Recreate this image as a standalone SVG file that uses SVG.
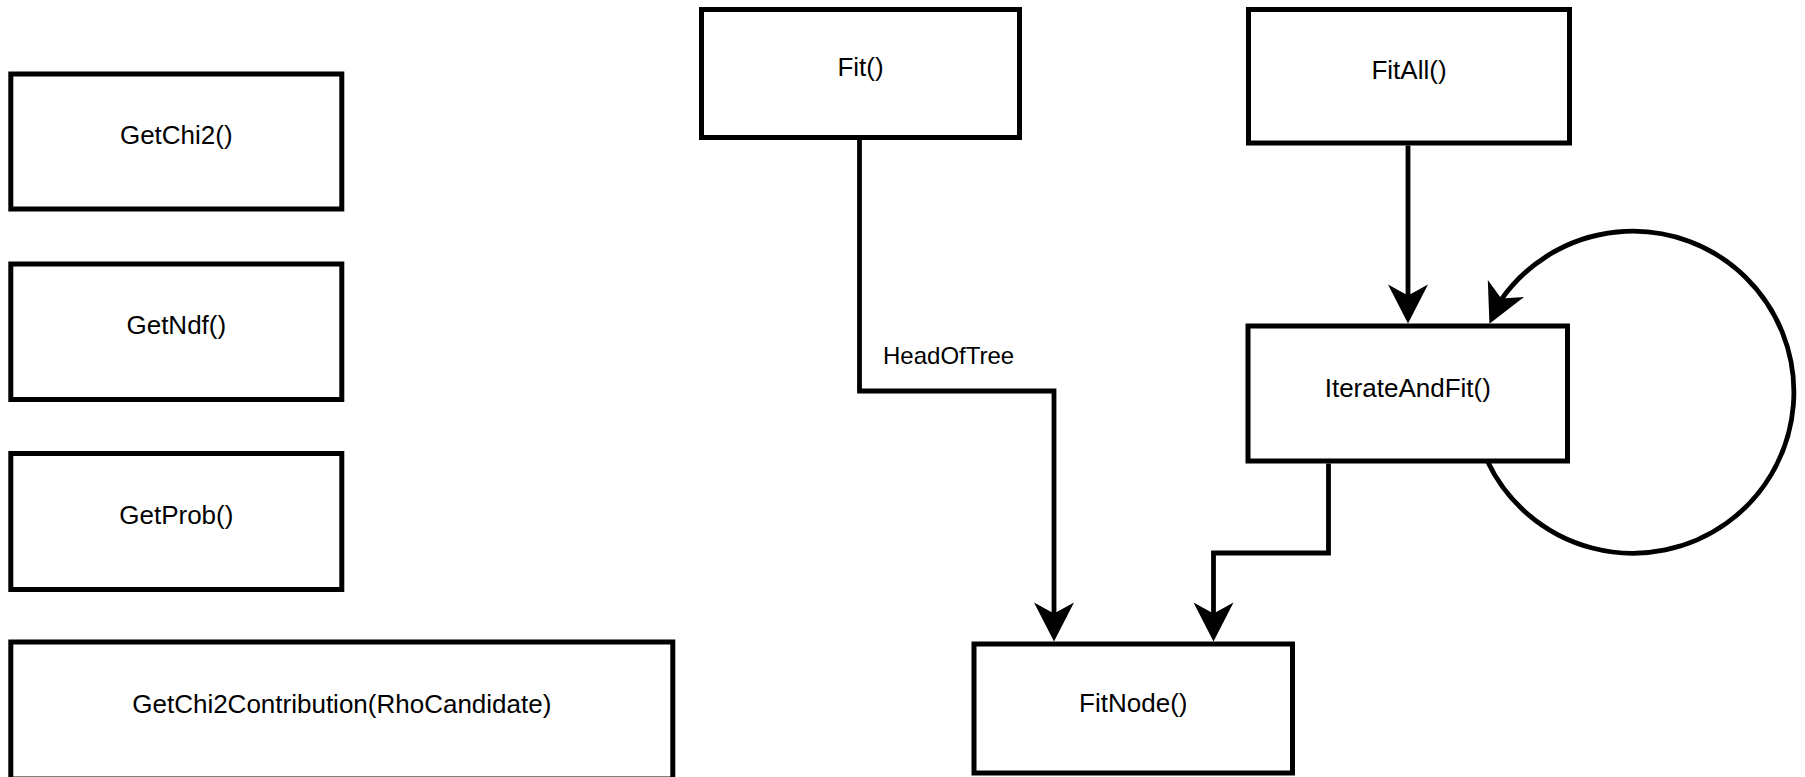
<svg xmlns="http://www.w3.org/2000/svg" width="1805" height="777" viewBox="0 0 1805 777">
  <style>
    .box { fill: #ffffff; stroke: #000000; stroke-width: 5; }
    .lbl { font-family: "Liberation Sans", Arial, Helvetica, sans-serif; font-size: 26px; fill: #000000; text-anchor: middle; }
    .edge { fill: none; stroke: #000000; stroke-width: 4.8; stroke-linejoin: miter; }
    .elbl { font-family: "Liberation Sans", Arial, Helvetica, sans-serif; font-size: 24px; fill: #000000; }
  </style>
  <defs>
    <!-- classic filled arrowhead; reference point sits just ahead of the notch so the line end is hidden -->
    <marker id="arrow" markerUnits="userSpaceOnUse" orient="auto" markerWidth="60" markerHeight="60" viewBox="-30 -30 60 60" refX="0" refY="0" overflow="visible">
      <path d="M24,0 L-15,-20 L-4,0 L-15,20 Z" fill="#000000" stroke="none"/>
    </marker>
  </defs>

  <rect x="0" y="0" width="1805" height="777" fill="#ffffff"/>

  <!-- nodes -->
  <g id="getchi2">
    <rect class="box" x="10.8" y="74" width="331" height="135"/>
    <text class="lbl" x="176.3" y="144">GetChi2()</text>
  </g>
  <g id="getndf">
    <rect class="box" x="10.8" y="264" width="331" height="135.5"/>
    <text class="lbl" x="176.3" y="334">GetNdf()</text>
  </g>
  <g id="getprob">
    <rect class="box" x="10.8" y="453.5" width="331" height="136"/>
    <text class="lbl" x="176.3" y="524">GetProb()</text>
  </g>
  <g id="getchi2contribution">
    <rect class="box" x="10.8" y="642" width="662" height="137"/>
    <text class="lbl" x="341.8" y="713">GetChi2Contribution(RhoCandidate)</text>
  </g>
  <g id="fit">
    <rect class="box" x="701.5" y="9.5" width="318" height="128"/>
    <text class="lbl" x="860.5" y="76">Fit()</text>
  </g>
  <g id="fitall">
    <rect class="box" x="1248.5" y="9.5" width="321" height="133.5"/>
    <text class="lbl" x="1409" y="78.5">FitAll()</text>
  </g>
  <g id="iterateandfit">
    <rect class="box" x="1248" y="326" width="319.5" height="135"/>
    <text class="lbl" x="1407.8" y="396.5">IterateAndFit()</text>
  </g>
  <g id="fitnode">
    <rect class="box" x="974" y="644" width="318.5" height="129"/>
    <text class="lbl" x="1133.3" y="712">FitNode()</text>
  </g>

  <!-- connectors -->
  <g id="connectors">
    <path class="edge" d="M859.5,140 V391 H1054 V617.5" marker-end="url(#arrow)"/>
    <text class="elbl" x="883" y="364">HeadOfTree</text>
    <path class="edge" d="M1408,145.5 V299.5" marker-end="url(#arrow)"/>
    <path class="edge" d="M1328.5,463.5 V553 H1213.5 V617.5" marker-end="url(#arrow)"/>
    <!-- self loop on IterateAndFit(): circle r=161 round (1633,392.5), bottom edge out, top edge back in -->
    <path class="edge" d="M1487.3,461 A161,161 0 1 0 1499.8,301.6 l-0.21,0.45" marker-end="url(#arrow)"/>
  </g>
</svg>
